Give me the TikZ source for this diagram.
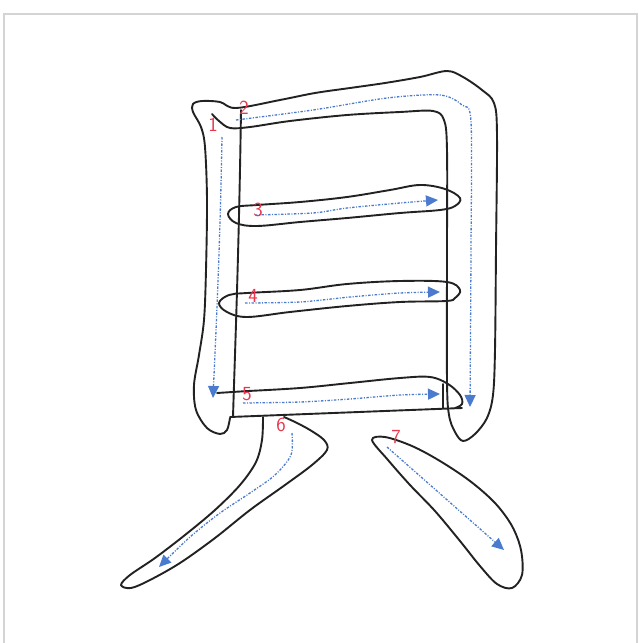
\documentclass[tikz,border=0pt]{standalone}
\usetikzlibrary{arrows.meta}
\definecolor{inkc}{HTML}{222222}
\definecolor{guide}{HTML}{4A7BCF}
\definecolor{numc}{HTML}{E63950}
\definecolor{framec}{HTML}{D4D4D4}
\tikzset{
  ink/.style={draw=inkc,line width=1.9pt,line join=round,line cap=round},
  guideline/.style={draw=guide,line width=1.3pt,dash pattern=on 2.5pt off 1.5pt on 1pt off 1.5pt,
     -{Triangle[length=12pt,width=11pt,fill=guide]}},
  num/.style={text=numc,font=\sffamily\fontsize{20}{20}\selectfont,inner sep=0pt}
}
\begin{document}
\begin{tikzpicture}[x=1pt,y=-1pt]
\useasboundingbox (0,0) rectangle (639,643);
\fill[white] (0,0) rectangle (639,643);
% frame
\draw[framec,line width=1.6pt] (4,650) -- (4,14) -- (637,14) -- (637,650);

% stroke 1 + stroke 2 outer outline
\draw[ink] plot[smooth,tension=0.55] coordinates {(230,418) (227,430) (220,434) (207,428) (196,410) (194,385) (199,355) (204,320) (206,270) (207,200) (205,147) (201,127) (193,112) (193,104) (202,101) (220,102) (236,108) (280,100) (315,93) (350,88) (385,83) (420,77) (447,71) (463,77) (482,90) (494,103) (497,135) (496,250) (495,350) (493,395) (487,418) (475,434) (463,441) (455,432) (449,415) (447,380) (447,250) (447,150) (444,120) (433,111) (400,112) (347,115) (290,121) (250,127) (230,128) (219,121) (212,114)};
% inner left vertical
\draw[ink] (241,110) .. controls (239,250) and (235,350) .. (233,417);

% stroke 3
\draw[ink] plot[smooth cycle,tension=0.6] coordinates {(228,214) (236,207) (257,205) (300,202) (347,197) (390,190) (420,185) (445,189) (460,198) (455,206) (440,210) (400,213) (347,218) (300,222) (257,226) (236,223)};
% stroke 4
\draw[ink] plot[smooth cycle,tension=0.6] coordinates {(219,303) (229,295) (247,293) (300,290) (347,284) (400,281) (447,282) (460,290) (455,298) (446,301) (400,302) (347,306) (290,312) (247,317) (227,312)};
% stroke 5
\draw[ink] (217,393) -- (248,391);
\draw[ink] plot[smooth,tension=0.6] coordinates {(248,391) (300,388) (350,383) (400,378) (430,377) (448,384) (460,395) (462,404) (455,408)};
\draw[ink] (230,417) -- (462,408);
\draw[ink] (443,384) -- (443,408);

% stroke 6
\draw[ink] plot[smooth,tension=0.55] coordinates {(263,417) (262,440) (256,462) (240,485) (215,510) (185,535) (155,558) (130,575) (121,585) (131,588) (150,580) (180,563) (215,538) (250,510) (285,485) (312,465) (327,450) (324,440) (310,430) (295,422) (284,417)};
% stroke 7
\draw[ink] plot[smooth cycle,tension=0.55] coordinates {(372,440) (385,437) (412,446) (440,461) (470,481) (495,503) (512,526) (521,550) (522,575) (512,588) (497,584) (480,566) (460,541) (435,511) (410,485) (388,460)};

% guide arrows
\draw[guideline] (222,137) .. controls (220,250) and (216,330) .. (213,398);
\draw[guideline] plot[smooth,tension=0.5] coordinates {(236,120) (313,110) (387,98) (440,95) (462,105) (471,122) (471,250) (470,407)};
\draw[guideline] plot[smooth,tension=0.5] coordinates {(255,215) (313,213) (347,208) (400,203) (438,200)};
\draw[guideline] plot[smooth,tension=0.5] coordinates {(245,303) (300,302) (350,297) (400,293) (440,292)};
\draw[guideline] plot[smooth,tension=0.5] coordinates {(243,403) (300,402) (350,399) (400,395) (440,394)};
\draw[guideline] plot[smooth,tension=0.5] coordinates {(292,433) (291,455) (275,475) (250,493) (220,513) (190,537) (159,567)};
\draw[guideline] (387,447) -- (504,550);

% numbers
\node[num] (n1) at (213,125) {1};
\node[num] (n2) at (244,108) {2};
\node[num] (n3) at (258,210) {3};
\node[num] (n4) at (253,296) {4};
\node[num] (n5) at (247,394) {5};
\node[num] (n6) at (281,425) {6};
\node[num] (n7) at (396,437) {7};
\end{tikzpicture}
\end{document}
